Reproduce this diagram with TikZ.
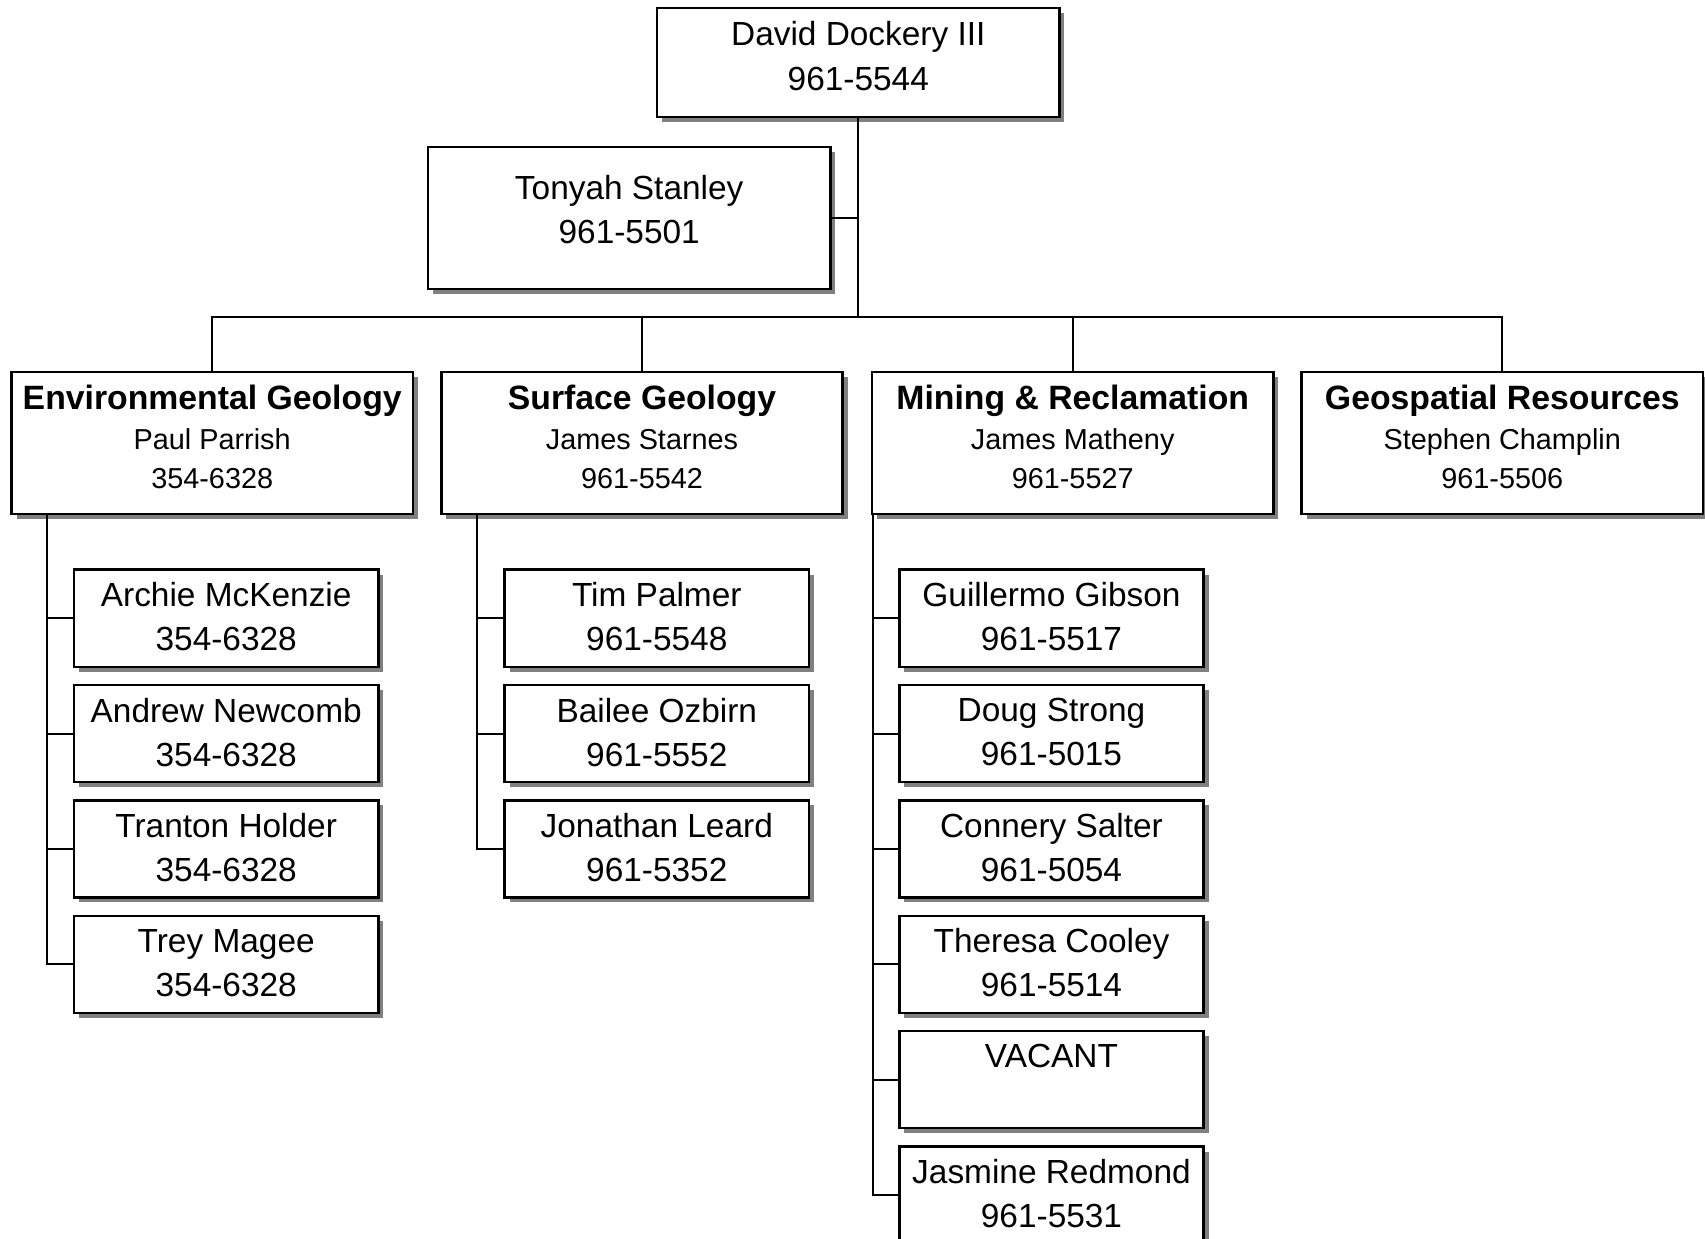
\documentclass[tikz,border=0pt]{standalone}
\usepackage{fontspec}
\setmainfont{Liberation Sans}
\usetikzlibrary{shadows}
\usetikzlibrary{positioning}
\newcommand{\depttitle}[1]{{\fontsize{9.6}{11.4}\selectfont\bfseries #1}}

\begin{document}
\begin{tikzpicture}[
  x=0.01cm, y=-0.01cm,
  line width=0.55pt,
  box/.style = {draw, line width=0.7pt, fill=white, align=center, inner sep=0pt, outer sep=0pt,
    drop shadow={shadow xshift=0.05cm, shadow yshift=-0.05cm, fill=black!50, opacity=1}},
  chief/.style = {box, minimum width=4.02cm, minimum height=1.09cm, text depth=3.7pt, font=\fontsize{9.5}{12.8}\selectfont},
  aide/.style = {box, minimum width=4.02cm, minimum height=1.42cm, text depth=5pt, font=\fontsize{9.5}{12.5}\selectfont},
  dept/.style = {box, minimum width=4.01cm, minimum height=1.42cm, text depth=3.4pt, font=\fontsize{8.2}{11.2}\selectfont},
  staff/.style = {box, minimum width=3.04cm, minimum height=0.97cm, text depth=0.9pt, font=\fontsize{9.5}{12.5}\selectfont},
  node distance=0.183cm
  ]
	\useasboundingbox (0,0) rectangle (1705,1239);
	\clip (0,0) rectangle (1705,1239);

	% director and assistant
	\node[chief] (david) at (858.3,62.7) {David Dockery III\\961-5544};
	\node[aide] (tonyah) at (629.2,217.8) {Tonyah Stanley\\961-5501};

	% sections
	\node[dept] (envgeo) at (212.2,443) {\depttitle{Environmental Geology}\\Paul Parrish\\354-6328};
	\node[dept] (surfgeo) at (642,443) {\depttitle{Surface Geology}\\James Starnes\\961-5542};
	\node[dept] (mining) at (1072.7,443) {\depttitle{Mining \& Reclamation}\\James Matheny\\961-5527};
	\node[dept] (geospatial) at (1502.3,443) {\depttitle{Geospatial Resources}\\Stephen Champlin\\961-5506};

	% Environmental Geology staff
	\node[staff] (archie) at (226.2,618.2) {Archie McKenzie\\354-6328};
	\node[staff,below=of archie] (andrew) {Andrew Newcomb\\354-6328};
	\node[staff,below=of andrew] (tranton) {Tranton Holder\\354-6328};
	\node[staff,below=of tranton] (trey) {Trey Magee\\354-6328};

	% Surface Geology staff
	\node[staff] (tim) at (656.8,618.2) {Tim Palmer\\961-5548};
	\node[staff,below=of tim] (bailee) {Bailee Ozbirn\\961-5552};
	\node[staff,below=of bailee] (jonathan) {Jonathan Leard\\961-5352};

	% Mining & Reclamation staff
	\node[staff] (guillermo) at (1051.5,618.2) {Guillermo Gibson\\961-5517};
	\node[staff,below=of guillermo] (doug) {Doug Strong\\961-5015};
	\node[staff,below=of doug] (connery) {Connery Salter\\961-5054};
	\node[staff,below=of connery] (theresa) {Theresa Cooley\\961-5514};
	\node[staff,below=of theresa] (vacant) {VACANT\\\strut};
	\node[staff,below=of vacant] (jasmine) {Jasmine Redmond\\961-5531};

	% top connectors
	\coordinate (bus) at (david.south |- 0,316.7);
	\draw (david) -- (bus);
	\draw (tonyah.east) -- (tonyah.east -| david.south);
	\draw (envgeo.north) |- (bus) -| (geospatial.north);
	\draw (surfgeo.north) -- (surfgeo.north |- bus);
	\draw (mining.north) -- (mining.north |- bus);

	% staff connectors
	\coordinate (envtrunk) at (46.8,0);
	\coordinate (surftrunk) at (477.4,0);
	\coordinate (mintrunk) at (873.2,0);

	\draw (envgeo.south -| envtrunk) |- (trey.west);
	\foreach \n in {archie,andrew,tranton}
		\draw (\n.west) -- (\n.west -| envtrunk);

	\draw (surfgeo.south -| surftrunk) |- (jonathan.west);
	\foreach \n in {tim,bailee}
		\draw (\n.west) -- (\n.west -| surftrunk);

	\draw (mining.south -| mintrunk) |- (jasmine.west);
	\foreach \n in {guillermo,doug,connery,theresa,vacant}
		\draw (\n.west) -- (\n.west -| mintrunk);

\end{tikzpicture}
\end{document}
